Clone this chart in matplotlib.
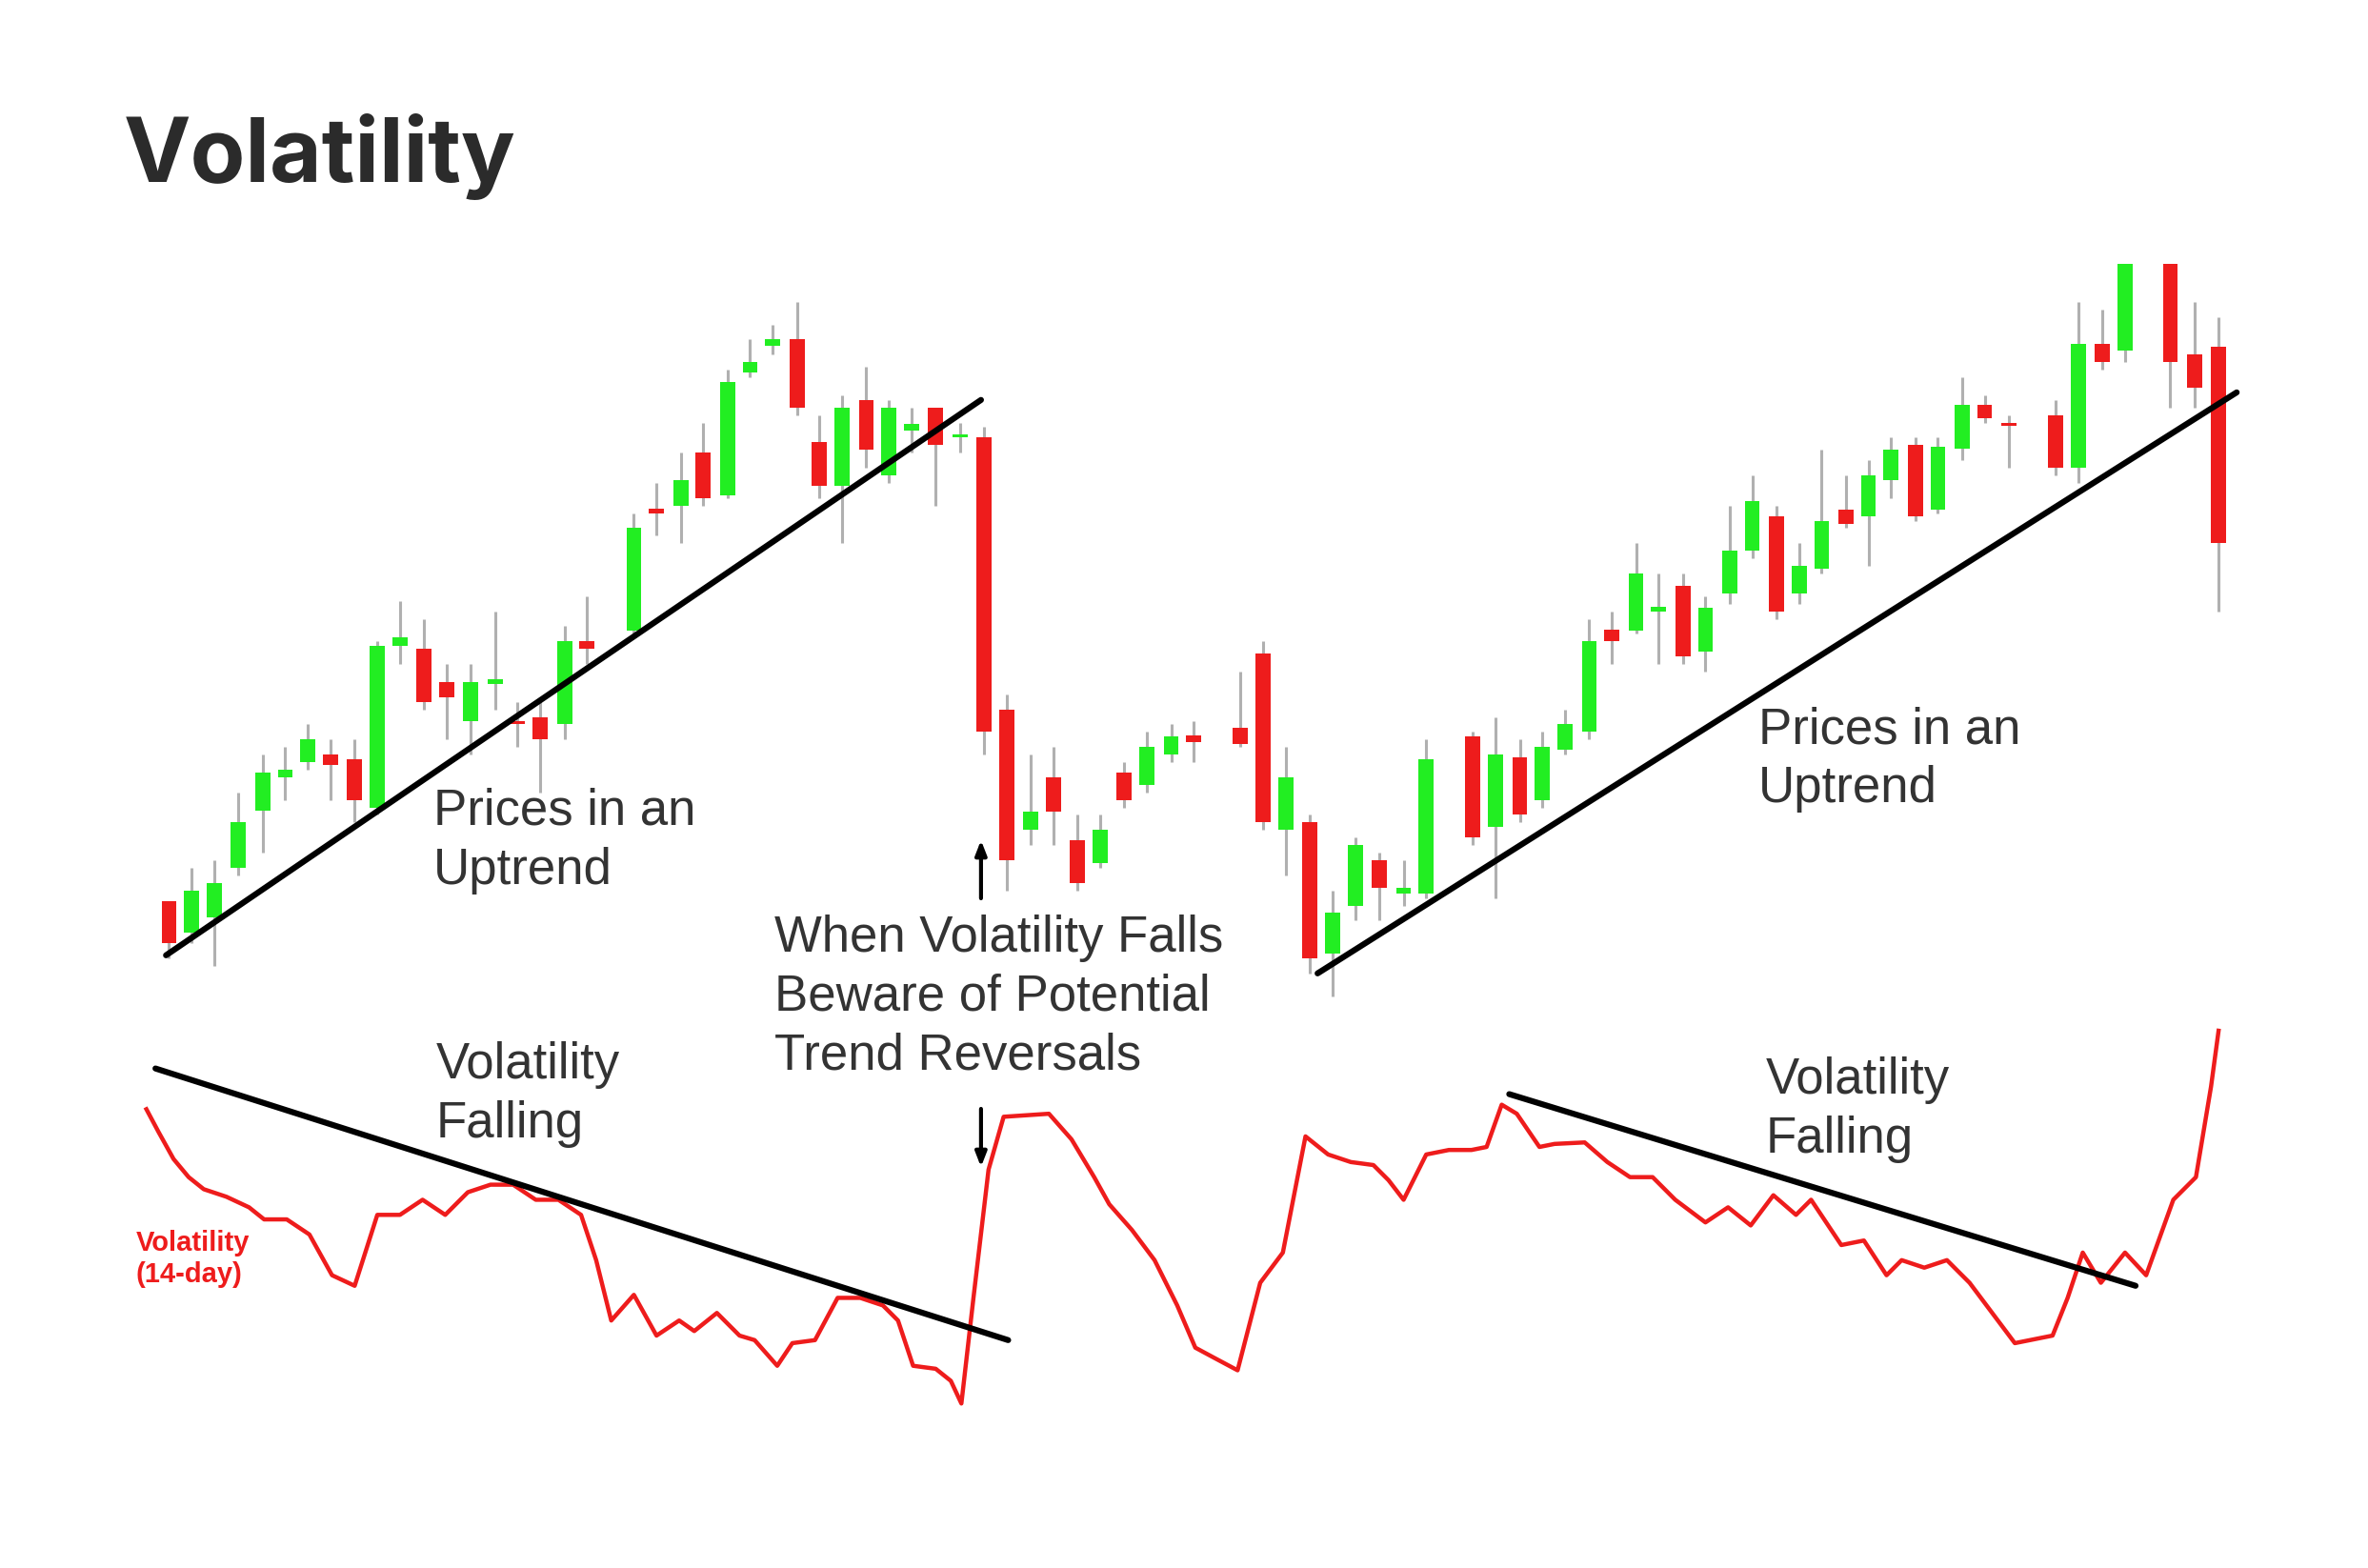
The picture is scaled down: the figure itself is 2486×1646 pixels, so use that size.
import matplotlib
matplotlib.use("Agg")
import matplotlib.pyplot as plt

# candles: x, body top, body bottom, wick top, wick bottom, colour (g/r)  (chart units, y grows downward)
cx = [112,127,142,158,174,189,204,219,235,250,265,281,296,312,328,343,358,374,389,420,435,451,466,482,497,512,528,543,558,574,589,604,620,636,652,
      667,683,698,714,729,745,760,776,791,822,837,852,868,883,898,914,930,945,976,991,1007,1022,1037,1053,1068,1084,1099,1115,1130,1146,1161,1177,
      1192,1207,1223,1238,1253,1269,1284,1300,1315,1331,1362,1377,1393,1408,1438,1454,1470]
btop = [597,590,585,545,512,510,490,500,503,428,422,430,452,452,450,478,475,425,425,350,337,318,300,253,240,225,225,293,270,265,270,281,270,288,290,
        470,538,515,557,550,512,495,488,487,482,433,515,545,605,560,570,588,503,488,500,502,495,480,425,417,380,402,388,403,365,332,342,
        375,345,338,315,298,295,296,268,268,280,275,228,228,175,175,235,230]
bbot = [625,618,608,575,537,515,505,507,530,535,428,465,462,478,453,480,490,480,430,418,340,335,330,328,247,229,270,322,322,298,315,285,295,290,485,
        570,550,538,585,572,530,520,500,492,493,545,550,635,632,600,588,592,592,555,548,540,530,497,485,425,418,405,435,432,393,365,405,
        393,377,347,342,318,342,338,297,277,282,310,310,240,232,240,257,360]
wtop = [597,575,570,525,500,495,480,490,490,425,398,410,440,440,405,465,465,415,395,340,320,300,280,245,225,215,200,275,262,243,265,270,270,280,283,
        460,500,495,540,540,505,485,480,478,445,425,495,540,590,555,565,570,490,485,475,490,485,470,410,405,360,380,380,395,335,315,335,
        360,298,315,305,290,290,290,250,262,275,265,200,205,175,175,200,210]
wbot = [635,625,640,580,565,530,510,530,545,540,440,470,490,500,470,495,525,490,440,420,355,360,335,330,250,235,275,330,360,310,320,300,335,300,500,
        590,560,560,590,575,535,525,505,505,495,550,580,645,660,610,610,600,595,560,595,545,535,500,490,440,420,440,440,445,400,370,410,
        400,380,350,375,330,345,340,305,280,310,315,320,245,240,270,270,405]
ccol = ['r','g','g','g','g','g','g','r','r','g','g','r','r','g','g','r','r','g','r','g','r','g','r','g','g','g','r','r','g','r','g','g','r','g','r',
        'r','g','r','r','g','r','g','g','r','r','r','g','r','g','g','r','g','g','r','g','r','g','g','g','r','g','g','r','g','g','g','r',
        'g','g','r','g','g','r','g','g','r','r','r','g','r','g','r','r','r']

vol_x = [97,105,115,125,135,150,165,175,190,205,220,235,250,265,280,295,310,325,340,355,370,385,395,405,420,435,450,460,475,490,500,515,525,540,555,570,585,595,605,620,630,637,645,655,665,695,710,725,735,750,765,780,792,805,820,835,850,865,880,895,910,920,930,945,960,975,985,995,1005,1020,1030,1050,1065,1080,1095,1110,1130,1145,1160,1175,1190,1200,1220,1235,1250,1260,1275,1290,1305,1320,1335,1360,1370,1380,1392,1408,1422,1440,1455,1465,1470]
vol_y = [735,750,768,780,788,793,800,808,808,818,845,852,805,805,795,805,790,785,785,795,795,805,835,875,858,885,875,882,870,885,888,905,890,888,860,860,865,875,905,907,915,930,860,775,740,738,755,780,798,815,835,865,893,900,908,850,830,753,765,770,772,782,795,765,762,762,760,732,738,760,758,757,770,780,780,795,810,800,812,792,805,795,825,822,845,835,840,835,850,870,890,885,860,830,850,830,845,795,780,720,683]

trend_lines = [((110,633),(650,265)), ((103,708),(668,888)), ((873,645),(1482,260)), ((1000,725),(1415,852))]

GREEN = "#22ee22"; RED = "#ee1c1c"

fig = plt.figure(figsize=(24.86, 16.46), dpi=100)
ax = fig.add_axes([0, 0, 1, 1])
ax.set_xlim(0, 1569); ax.set_ylim(1039, 0)
ax.axis("off")

for x, t, b, wt, wb, c in zip(cx, btop, bbot, wtop, wbot, ccol):
    ax.plot([x, x], [wt, wb], color="#b0b0b0", lw=2.2, zorder=1, solid_capstyle="butt")
    ax.bar(x, max(b - t, 2), bottom=t, width=10, color=GREEN if c == 'g' else RED, zorder=2)

ax.plot(vol_x, vol_y, color=RED, lw=3.2, zorder=2)
for (x0, y0), (x1, y1) in trend_lines:
    ax.plot([x0, x1], [y0, y1], color="black", lw=4.5, zorder=3, solid_capstyle="round")

ap = dict(arrowstyle="-|>,head_width=0.35,head_length=0.9", lw=3, color="black")
ax.annotate("", xy=(650, 555), xytext=(650, 597), arrowprops=ap)
ax.annotate("", xy=(650, 775), xytext=(650, 733), arrowprops=ap)

ax.text(82, 104, "Volatility", fontsize=68, fontweight="bold", color="#2b2b2b", va="center", family="Inter")
tk = dict(fontsize=38, color="#333333", va="top", linespacing=1.3, family="Liberation Sans")
ax.text(287, 522, "Prices in an\nUptrend", **tk)
ax.text(1165, 468, "Prices in an\nUptrend", **tk)
ax.text(289, 690, "Volatility\nFalling", **tk)
ax.text(1170, 700, "Volatility\nFalling", **tk)
ax.text(513, 606, "When Volatility Falls\nBeware of Potential\nTrend Reversals", **tk)
ax.text(90, 815, "Volatility\n(14-day)", fontsize=21, fontweight="bold", color=RED, va="top", family="Liberation Sans")

fig.savefig("out.png", dpi=100)
